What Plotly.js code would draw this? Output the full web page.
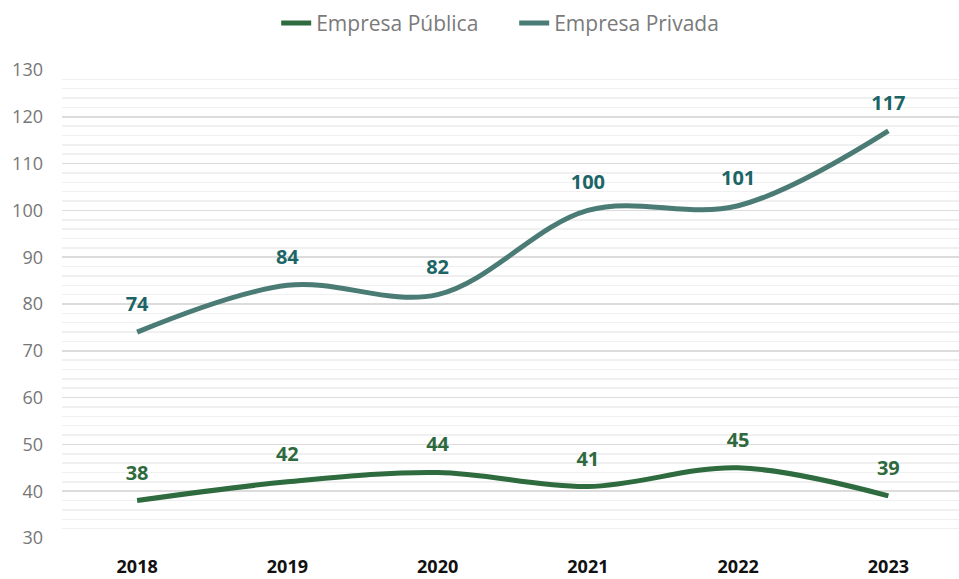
<!DOCTYPE html>
<html>
<head>
<meta charset="utf-8">
<script src="https://cdn.plot.ly/plotly-3.0.1.min.js"></script>
<style>html,body{margin:0;padding:0;background:#fff;}#chart{width:959px;height:579px;}</style>
</head>
<body>
<div id="chart"></div>
<script>
const years = ["2018", "2019", "2020", "2021", "2022", "2023"];
const publica = [38, 42, 44, 41, 45, 39];
const privada = [74, 84, 82, 100, 101, 117];
const seriesNames = ["Empresa Pública", "Empresa Privada"];
const yTicks = [30, 40, 50, 60, 70, 80, 90, 100, 110, 120, 130];

const colPub = "#2e6b3e";
const colPriv = "#4a7b74";
const labPub = "#2f6a3e";
const labPriv = "#1c6566";

function labelTrace(vals, color) {
  return {x: years, y: vals, type: "scatter", mode: "markers+text", showlegend: false,
    text: vals.map(v => "<b>" + v + "</b>"), textposition: "top center",
    marker: {size: 24, opacity: 0, color: "rgba(0,0,0,0)"},
    textfont: {family: "Open Sans, sans-serif", size: 20, color: color},
    cliponaxis: false, hoverinfo: "skip"};
}

const traces = [
  {x: years, y: publica, name: seriesNames[0], type: "scatter", mode: "lines",
   line: {color: colPub, width: 5, shape: "spline", smoothing: 1}, hoverinfo: "skip"},
  {x: years, y: privada, name: seriesNames[1], type: "scatter", mode: "lines",
   line: {color: colPriv, width: 5, shape: "spline", smoothing: 1}, hoverinfo: "skip"},
  labelTrace(publica, labPub),
  labelTrace(privada, labPriv)
];

const layout = {
  width: 959, height: 579,
  margin: {l: 62, r: 0, t: 70, b: 41},
  paper_bgcolor: "#fff", plot_bgcolor: "#fff",
  font: {family: "Open Sans, sans-serif", color: "#777"},
  showlegend: true,
  legend: {orientation: "h", xref: "container", x: 0.288, xanchor: "left", yref: "container", y: 0.995, yanchor: "top",
    font: {size: 21, color: "#7a7a7a"}, itemwidth: 30, tracegroupgap: 0, entrywidth: 193},
  xaxis: {type: "category", range: [-0.5, 5.47], showgrid: false, zeroline: false, showline: false,
    ticks: "", ticklabelstandoff: 16,
    tickfont: {family: "Open Sans, sans-serif", size: 18, color: "#111", weight: "bold"}},
  yaxis: {range: [30, 130], tickvals: yTicks, showgrid: true, gridcolor: "#dcdcdc", gridwidth: 1.5,
    zeroline: false, showline: false, ticks: "", ticklabelstandoff: 18,
    minor: {dtick: 2, showgrid: true, gridcolor: "#f0f0f0", gridwidth: 1.5},
    tickfont: {family: "Open Sans, sans-serif", size: 18, color: "#777"}}
};

Plotly.newPlot("chart", traces, layout, {displayModeBar: false, staticPlot: true});
</script>
</body>
</html>
